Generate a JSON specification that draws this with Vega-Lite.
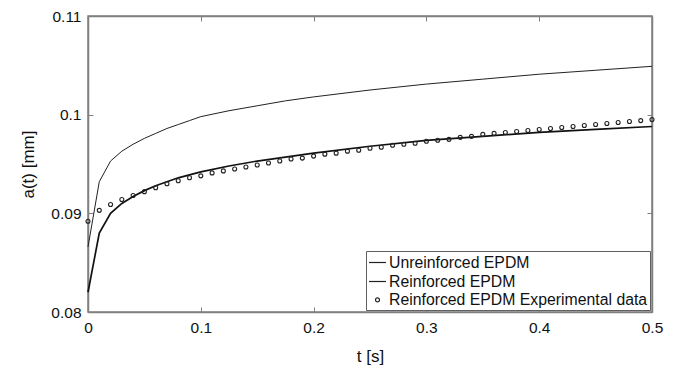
{
  "$schema": "https://vega.github.io/schema/vega-lite/v6.json",
  "width": 564,
  "height": 296,
  "autosize": {"type": "none"},
  "padding": {"left": 88, "top": 16, "right": 24, "bottom": 57},
  "background": "white",
  "datasets": {
    "unr": [
      {"t": 0, "a": 0.0866}, {"t": 0.01, "a": 0.0932}, {"t": 0.02, "a": 0.0953},
      {"t": 0.03, "a": 0.0963}, {"t": 0.04, "a": 0.0970}, {"t": 0.05, "a": 0.0976},
      {"t": 0.06, "a": 0.0981}, {"t": 0.07, "a": 0.0986}, {"t": 0.08, "a": 0.0990},
      {"t": 0.09, "a": 0.0994}, {"t": 0.1, "a": 0.0998}, {"t": 0.125, "a": 0.1004},
      {"t": 0.15, "a": 0.1009}, {"t": 0.175, "a": 0.1014}, {"t": 0.2, "a": 0.1018},
      {"t": 0.25, "a": 0.1025}, {"t": 0.3, "a": 0.1031}, {"t": 0.35, "a": 0.1036},
      {"t": 0.4, "a": 0.1041}, {"t": 0.45, "a": 0.1045}, {"t": 0.5, "a": 0.1049}
    ],
    "rein": [
      {"t": 0, "a": 0.0820}, {"t": 0.01, "a": 0.0880}, {"t": 0.02, "a": 0.0900},
      {"t": 0.03, "a": 0.0910}, {"t": 0.04, "a": 0.0917}, {"t": 0.05, "a": 0.0923},
      {"t": 0.06, "a": 0.0928}, {"t": 0.07, "a": 0.0932}, {"t": 0.08, "a": 0.0936},
      {"t": 0.09, "a": 0.0939}, {"t": 0.1, "a": 0.0942}, {"t": 0.125, "a": 0.0948},
      {"t": 0.15, "a": 0.0953}, {"t": 0.175, "a": 0.0957}, {"t": 0.2, "a": 0.0961},
      {"t": 0.25, "a": 0.0968}, {"t": 0.3, "a": 0.0974}, {"t": 0.35, "a": 0.0978},
      {"t": 0.4, "a": 0.0982}, {"t": 0.45, "a": 0.0985}, {"t": 0.5, "a": 0.0988}
    ],
    "exp": [
      {"t": 0, "a": 0.0892, "s": "Reinforced EPDM Experimental data"},
      {"t": 0.01, "a": 0.0903, "s": "Reinforced EPDM Experimental data"},
      {"t": 0.02, "a": 0.0909, "s": "Reinforced EPDM Experimental data"},
      {"t": 0.03, "a": 0.0914, "s": "Reinforced EPDM Experimental data"},
      {"t": 0.04, "a": 0.0918, "s": "Reinforced EPDM Experimental data"},
      {"t": 0.05, "a": 0.0922, "s": "Reinforced EPDM Experimental data"},
      {"t": 0.06, "a": 0.0926, "s": "Reinforced EPDM Experimental data"},
      {"t": 0.07, "a": 0.0930, "s": "Reinforced EPDM Experimental data"},
      {"t": 0.08, "a": 0.0933, "s": "Reinforced EPDM Experimental data"},
      {"t": 0.09, "a": 0.0936, "s": "Reinforced EPDM Experimental data"},
      {"t": 0.10, "a": 0.0938, "s": "Reinforced EPDM Experimental data"},
      {"t": 0.11, "a": 0.0941, "s": "Reinforced EPDM Experimental data"},
      {"t": 0.12, "a": 0.0943, "s": "Reinforced EPDM Experimental data"},
      {"t": 0.13, "a": 0.0945, "s": "Reinforced EPDM Experimental data"},
      {"t": 0.14, "a": 0.0947, "s": "Reinforced EPDM Experimental data"},
      {"t": 0.15, "a": 0.0949, "s": "Reinforced EPDM Experimental data"},
      {"t": 0.16, "a": 0.0951, "s": "Reinforced EPDM Experimental data"},
      {"t": 0.17, "a": 0.0953, "s": "Reinforced EPDM Experimental data"},
      {"t": 0.18, "a": 0.0955, "s": "Reinforced EPDM Experimental data"},
      {"t": 0.19, "a": 0.0956, "s": "Reinforced EPDM Experimental data"},
      {"t": 0.20, "a": 0.0958, "s": "Reinforced EPDM Experimental data"},
      {"t": 0.21, "a": 0.0960, "s": "Reinforced EPDM Experimental data"},
      {"t": 0.22, "a": 0.0961, "s": "Reinforced EPDM Experimental data"},
      {"t": 0.23, "a": 0.0963, "s": "Reinforced EPDM Experimental data"},
      {"t": 0.24, "a": 0.0964, "s": "Reinforced EPDM Experimental data"},
      {"t": 0.25, "a": 0.0966, "s": "Reinforced EPDM Experimental data"},
      {"t": 0.26, "a": 0.0967, "s": "Reinforced EPDM Experimental data"},
      {"t": 0.27, "a": 0.0969, "s": "Reinforced EPDM Experimental data"},
      {"t": 0.28, "a": 0.0970, "s": "Reinforced EPDM Experimental data"},
      {"t": 0.29, "a": 0.0971, "s": "Reinforced EPDM Experimental data"},
      {"t": 0.30, "a": 0.0973, "s": "Reinforced EPDM Experimental data"},
      {"t": 0.31, "a": 0.0974, "s": "Reinforced EPDM Experimental data"},
      {"t": 0.32, "a": 0.0975, "s": "Reinforced EPDM Experimental data"},
      {"t": 0.33, "a": 0.0977, "s": "Reinforced EPDM Experimental data"},
      {"t": 0.34, "a": 0.0978, "s": "Reinforced EPDM Experimental data"},
      {"t": 0.35, "a": 0.0980, "s": "Reinforced EPDM Experimental data"},
      {"t": 0.36, "a": 0.0981, "s": "Reinforced EPDM Experimental data"},
      {"t": 0.37, "a": 0.0982, "s": "Reinforced EPDM Experimental data"},
      {"t": 0.38, "a": 0.0983, "s": "Reinforced EPDM Experimental data"},
      {"t": 0.39, "a": 0.0984, "s": "Reinforced EPDM Experimental data"},
      {"t": 0.40, "a": 0.0985, "s": "Reinforced EPDM Experimental data"},
      {"t": 0.41, "a": 0.0986, "s": "Reinforced EPDM Experimental data"},
      {"t": 0.42, "a": 0.0987, "s": "Reinforced EPDM Experimental data"},
      {"t": 0.43, "a": 0.0988, "s": "Reinforced EPDM Experimental data"},
      {"t": 0.44, "a": 0.0989, "s": "Reinforced EPDM Experimental data"},
      {"t": 0.45, "a": 0.0990, "s": "Reinforced EPDM Experimental data"},
      {"t": 0.46, "a": 0.0991, "s": "Reinforced EPDM Experimental data"},
      {"t": 0.47, "a": 0.0992, "s": "Reinforced EPDM Experimental data"},
      {"t": 0.48, "a": 0.0993, "s": "Reinforced EPDM Experimental data"},
      {"t": 0.49, "a": 0.0994, "s": "Reinforced EPDM Experimental data"},
      {"t": 0.50, "a": 0.0995, "s": "Reinforced EPDM Experimental data"}
    ]
  },
  "config": {
    "font": "Liberation Sans",
    "view": {"stroke": "#808080", "strokeWidth": 1.5},
    "axis": {
      "domainColor": "#808080",
      "domainWidth": 1.5,
      "tickColor": "#808080",
      "tickWidth": 1,
      "grid": false,
      "labelFlush": false,
      "labelFont": "Liberation Sans",
      "labelFontSize": 15.5,
      "labelColor": "#111",
      "titleFont": "Liberation Sans",
      "titleFontSize": 17,
      "titleFontWeight": "normal",
      "titleColor": "#111"
    },
    "legend": {
      "labelFont": "Liberation Sans",
      "labelFontSize": 15.8,
      "labelColor": "#111",
      "labelLimit": 400,
      "strokeColor": "#606060",
      "fillColor": "white",
      "padding": 2,
      "offset": 2,
      "rowPadding": 1,
      "labelOffset": 2,
      "symbolStrokeColor": "#222",
      "symbolStrokeWidth": 1.2,
      "symbolOffset": 0,
      "cornerRadius": 0
    }
  },
  "resolve": {"axis": {"x": "independent", "y": "independent"}},
  "layer": [
    {
      "data": {"name": "unr"},
      "mark": {"type": "line", "color": "#222", "strokeWidth": 1},
      "encoding": {
        "x": {"field": "t", "type": "quantitative",
          "scale": {"domain": [0, 0.5], "nice": false, "zero": false},
          "axis": {"orient": "bottom", "values": [0, 0.1, 0.2, 0.3, 0.4, 0.5], "format": ".1~f", "tickSize": -5, "labelPadding": 13, "title": "t [s]", "titlePadding": 13}},
        "y": {"field": "a", "type": "quantitative",
          "scale": {"domain": [0.08, 0.11], "nice": false, "zero": false},
          "axis": {"orient": "left", "values": [0.08, 0.09, 0.1, 0.11], "format": ".2~f", "tickSize": -5, "labelPadding": 12, "title": "a(t) [mm]", "titlePadding": 13}}
      }
    },
    {
      "data": {"name": "rein"},
      "mark": {"type": "line", "color": "#111", "strokeWidth": 1.7},
      "encoding": {
        "x": {"field": "t", "type": "quantitative",
          "scale": {"domain": [0, 0.5], "nice": false, "zero": false},
          "axis": {"orient": "top", "values": [0, 0.1, 0.2, 0.3, 0.4, 0.5], "labels": false, "tickSize": -5, "title": null}},
        "y": {"field": "a", "type": "quantitative",
          "scale": {"domain": [0.08, 0.11], "nice": false, "zero": false},
          "axis": {"orient": "right", "values": [0.08, 0.09, 0.1, 0.11], "labels": false, "tickSize": -5, "title": null}}
      }
    },
    {
      "data": {"name": "exp"},
      "mark": {"type": "point", "filled": false, "color": "#222", "strokeWidth": 1.1, "opacity": 1},
      "encoding": {
        "x": {"field": "t", "type": "quantitative", "scale": {"domain": [0, 0.5], "nice": false, "zero": false}, "axis": null},
        "y": {"field": "a", "type": "quantitative", "scale": {"domain": [0.08, 0.11], "nice": false, "zero": false}, "axis": null},
        "shape": {"field": "s", "type": "nominal",
          "scale": {"domain": ["Unreinforced EPDM", "Reinforced EPDM", "Reinforced EPDM Experimental data"], "range": ["stroke", "stroke", "circle"]},
          "legend": {"title": null, "orient": "bottom-right"}},
        "size": {"field": "s", "type": "nominal",
          "scale": {"type": "ordinal", "domain": ["Unreinforced EPDM", "Reinforced EPDM", "Reinforced EPDM Experimental data"], "range": [289, 289, 16]},
          "legend": {"title": null, "orient": "bottom-right"}}
      }
    }
  ]
}
